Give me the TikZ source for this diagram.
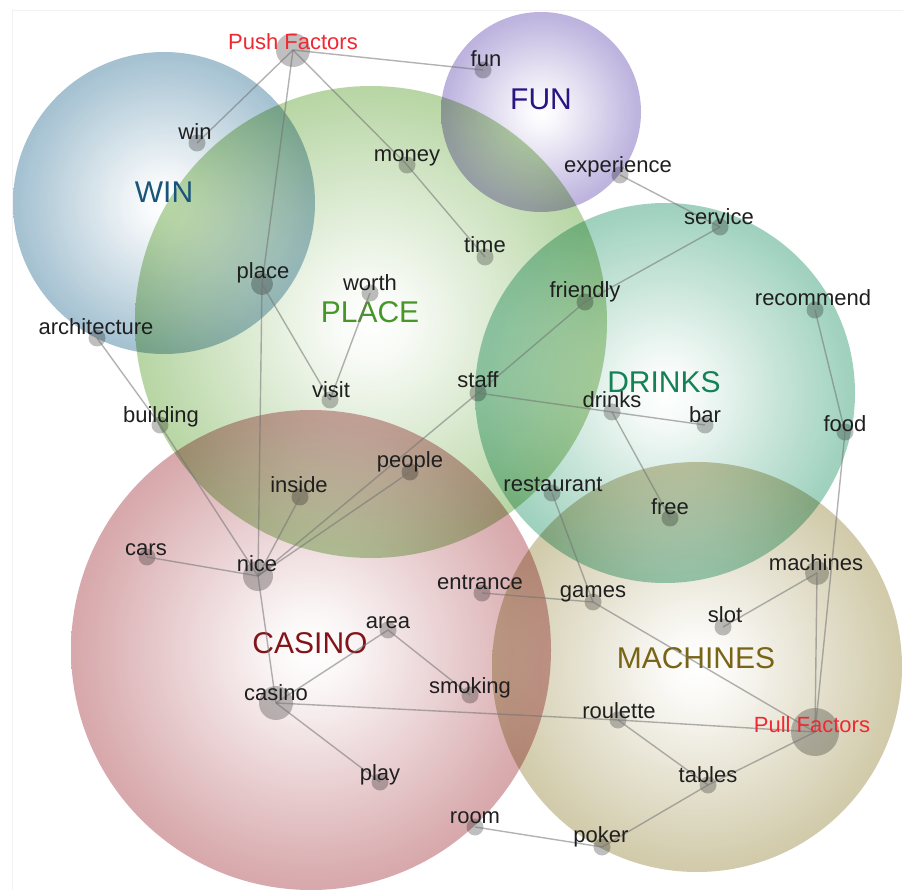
\documentclass[tikz,border=0pt]{standalone}
\usepackage{fontspec}
\setmainfont{Liberation Sans}
\definecolor{cWIN}{RGB}{98,148,176}
\definecolor{cFUN}{RGB}{140,122,198}
\definecolor{cPLACE}{RGB}{132,184,98}
\definecolor{cDRINKS}{RGB}{88,176,142}
\definecolor{cCASINO}{RGB}{186,104,110}
\definecolor{cMACH}{RGB}{176,164,108}
\definecolor{tWIN}{RGB}{25,85,120}
\definecolor{tFUN}{RGB}{40,20,130}
\definecolor{tPLACE}{RGB}{70,150,40}
\definecolor{tDRINKS}{RGB}{20,130,85}
\definecolor{tCASINO}{RGB}{130,20,25}
\definecolor{tMACH}{RGB}{120,100,20}
\definecolor{tRED}{RGB}{240,40,50}
\pgfdeclareradialshading{shWIN}{\pgfpoint{0bp}{0bp}}{color(0bp)=(white); color(4bp)=(white!94!cWIN); color(24bp)=(white!38!cWIN); color(50bp)=(cWIN)}
\pgfdeclareradialshading{shFUN}{\pgfpoint{0bp}{0bp}}{color(0bp)=(white); color(4bp)=(white!94!cFUN); color(24bp)=(white!38!cFUN); color(50bp)=(cFUN)}
\pgfdeclareradialshading{shPLACE}{\pgfpoint{0bp}{0bp}}{color(0bp)=(white); color(4bp)=(white!94!cPLACE); color(24bp)=(white!38!cPLACE); color(50bp)=(cPLACE)}
\pgfdeclareradialshading{shDRINKS}{\pgfpoint{0bp}{0bp}}{color(0bp)=(white); color(4bp)=(white!94!cDRINKS); color(24bp)=(white!38!cDRINKS); color(50bp)=(cDRINKS)}
\pgfdeclareradialshading{shCASINO}{\pgfpoint{0bp}{0bp}}{color(0bp)=(white); color(4bp)=(white!94!cCASINO); color(24bp)=(white!38!cCASINO); color(50bp)=(cCASINO)}
\pgfdeclareradialshading{shMACH}{\pgfpoint{0bp}{0bp}}{color(0bp)=(white); color(4bp)=(white!94!cMACH); color(24bp)=(white!38!cMACH); color(50bp)=(cMACH)}
\begin{document}
\begin{tikzpicture}[x=1pt,y=-1pt,
  bubble/.style={opacity=0.9, blend mode=multiply},
  dot/.style={circle, fill=black, fill opacity=0.25, draw=none, inner sep=0pt, minimum size=17pt},
  term/.style={font=\fontsize{22}{22}\selectfont, text=black!88, anchor=base, inner sep=0pt},
  factor/.style={font=\fontsize{22}{22}\selectfont, text=tRED, anchor=base, inner sep=0pt},
  cat/.style={font=\fontsize{30}{30}\selectfont, anchor=base, inner sep=0pt},
  link/.style={draw=black!55, line width=1.4pt, opacity=0.55}]
\useasboundingbox (0,0) rectangle (903,890);
\fill[white] (0,0) rectangle (903,890);
\draw[black!5, line width=0.8pt] (12,10) -- (903,10);
\draw[black!5, line width=0.8pt] (12,10) -- (12,890);
% bubbles
\shade[shading=shCASINO, bubble] (311,650) circle (240);
\shade[shading=shMACH, bubble] (697,667) circle (205);
\shade[shading=shDRINKS, bubble] (665,393) circle (190);
\shade[shading=shPLACE, bubble] (371,322) circle (236);
\shade[shading=shWIN, bubble] (164,203) circle (151);
\shade[shading=shFUN, bubble] (541,112) circle (100);
% category labels
\node[cat, text=tWIN] (WIN) at (164,203) {WIN};
\node[cat, text=tFUN] (FUN) at (541,110) {FUN};
\node[cat, text=tPLACE] (PLACE) at (370,323) {PLACE};
\node[cat, text=tDRINKS] (DRINKS) at (664,393) {DRINKS};
\node[cat, text=tCASINO] (CASINO) at (310,653) {CASINO};
\node[cat, text=tMACH] (MACHINES) at (696,668) {MACHINES};
% dots
\node[dot, minimum size=34pt] (push) at (293,50) {};
\node[dot] (fun) at (483,70) {};
\node[dot] (win) at (197,143) {};
\node[dot] (money) at (407,165) {};
\node[dot] (experience) at (620,175) {};
\node[dot] (service) at (720,227) {};
\node[dot] (time) at (485,257) {};
\node[dot, minimum size=22pt] (place) at (262,284) {};
\node[dot] (worth) at (370,293) {};
\node[dot] (friendly) at (585,302) {};
\node[dot] (recommend) at (815,310) {};
\node[dot] (architecture) at (97,338) {};
\node[dot] (visit) at (330,400) {};
\node[dot] (staff) at (478,393) {};
\node[dot] (drinks) at (612,412) {};
\node[dot] (bar) at (705,425) {};
\node[dot] (food) at (845,432) {};
\node[dot] (building) at (160,425) {};
\node[dot] (people) at (410,472) {};
\node[dot] (inside) at (300,497) {};
\node[dot] (restaurant) at (552,493) {};
\node[dot] (free) at (670,518) {};
\node[dot] (cars) at (147,557) {};
\node[dot, minimum size=30pt] (nice) at (258,576) {};
\node[dot, minimum size=24pt] (machines) at (817,573) {};
\node[dot] (entrance) at (482,593) {};
\node[dot] (games) at (593,602) {};
\node[dot] (area) at (388,630) {};
\node[dot] (slot) at (723,627) {};
\node[dot, minimum size=34pt] (casino) at (276,703) {};
\node[dot] (smoking) at (470,695) {};
\node[dot] (roulette) at (618,720) {};
\node[dot, minimum size=48pt] (pull) at (815,732) {};
\node[dot] (play) at (380,782) {};
\node[dot] (tables) at (708,785) {};
\node[dot] (room) at (475,827) {};
\node[dot] (poker) at (602,847) {};
% links
\foreach \a/\b in {push/win, push/place, push/money, push/fun, money/time, place/visit, worth/visit, place/nice, experience/service, service/friendly, friendly/staff, staff/drinks, staff/nice, people/nice, inside/nice, drinks/bar, drinks/free, recommend/food, food/pull, machines/pull, machines/slot, games/pull, restaurant/games, entrance/games, architecture/building, building/nice, cars/nice, nice/casino, casino/area, area/smoking, casino/roulette, roulette/pull, casino/play, roulette/tables, tables/pull, tables/poker, room/poker}
  \draw[link] (\a.center) -- (\b.center);
% term labels
\node[factor] (push-t) at (293,50) {Push Factors};
\node[factor] (pull-t) at (812,732) {Pull Factors};
\node[term] (fun-t) at (486,67) {fun};
\node[term] (win-t) at (195,140) {win};
\node[term] (money-t) at (407,162) {money};
\node[term] (experience-t) at (618,173) {experience};
\node[term] (service-t) at (719,225) {service};
\node[term] (time-t) at (485,253) {time};
\node[term] (place-t) at (263,279) {place};
\node[term] (worth-t) at (370,291) {worth};
\node[term] (friendly-t) at (585,298) {friendly};
\node[term] (recommend-t) at (813,306) {recommend};
\node[term] (architecture-t) at (96,335) {architecture};
\node[term] (visit-t) at (331,398) {visit};
\node[term] (staff-t) at (478,388) {staff};
\node[term] (drinks-t) at (612,408) {drinks};
\node[term] (bar-t) at (705,423) {bar};
\node[term] (food-t) at (845,432) {food};
\node[term] (building-t) at (161,423) {building};
\node[term] (people-t) at (410,468) {people};
\node[term] (inside-t) at (299,493) {inside};
\node[term] (restaurant-t) at (553,492) {restaurant};
\node[term] (free-t) at (670,515) {free};
\node[term] (cars-t) at (146,555) {cars};
\node[term] (nice-t) at (257,572) {nice};
\node[term] (machines-t) at (816,570) {machines};
\node[term] (entrance-t) at (480,590) {entrance};
\node[term] (games-t) at (593,597) {games};
\node[term] (area-t) at (388,628) {area};
\node[term] (slot-t) at (725,622) {slot};
\node[term] (casino-t) at (276,700) {casino};
\node[term] (smoking-t) at (470,693) {smoking};
\node[term] (roulette-t) at (619,718) {roulette};
\node[term] (play-t) at (380,780) {play};
\node[term] (tables-t) at (708,782) {tables};
\node[term] (room-t) at (475,823) {room};
\node[term] (poker-t) at (601,842) {poker};
\end{tikzpicture}
\end{document}
